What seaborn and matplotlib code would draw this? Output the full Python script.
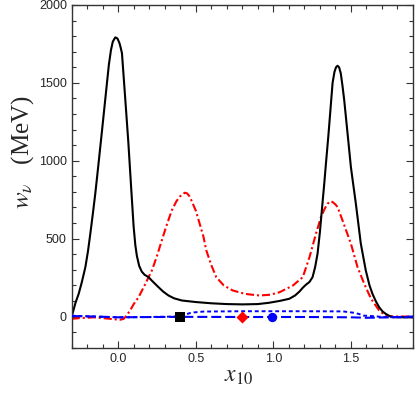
import matplotlib
matplotlib.use("Agg")
import matplotlib.pyplot as plt
import seaborn as sns
from matplotlib.ticker import MultipleLocator

# ---- data ----
black_x = [-0.3, -0.275, -0.255, -0.235, -0.212, -0.195, -0.18, -0.165, -0.148, -0.13,
           -0.105, -0.073, -0.06, -0.047, -0.035, -0.019, -0.005, 0.008, 0.016, 0.024,
           0.045, 0.065, 0.085, 0.099, 0.11, 0.12, 0.135, 0.152, 0.17, 0.195, 0.225, 0.26,
           0.29, 0.324, 0.36, 0.41, 0.5, 0.6, 0.7, 0.8, 0.9, 0.97, 1.04, 1.103, 1.14,
           1.168, 1.19, 1.211, 1.233, 1.253, 1.27, 1.285, 1.3, 1.318, 1.328, 1.339, 1.356,
           1.37, 1.382, 1.394, 1.404, 1.414, 1.424, 1.435, 1.446, 1.457, 1.485, 1.5, 1.51,
           1.532, 1.564, 1.596, 1.62, 1.639, 1.66, 1.682, 1.705, 1.725, 1.75, 1.77, 1.82, 1.9]
black_y = [0, 90, 146, 220, 317, 420, 532, 650, 789, 955,
           1190, 1497, 1620, 1710, 1765, 1792, 1785, 1755, 1725, 1690,
           1400, 1120, 800, 580, 460, 390, 325, 288, 268, 253, 222, 188,
           160, 135, 117, 103, 93, 85, 80, 78, 80, 88, 100, 114, 135,
           160, 185, 205, 222, 253, 320, 403, 540, 740, 850, 980, 1175,
           1350, 1500, 1570, 1600, 1610, 1600, 1560, 1480, 1389, 1111, 960, 886,
           725, 468, 296, 200, 146, 100, 60, 32, 17, 3, -4, -5, -5]

red_x = [-0.3, -0.25, -0.2, -0.16, -0.1, -0.05, 0.011, 0.035, 0.045, 0.06, 0.08, 0.1,
         0.131, 0.17, 0.217, 0.25, 0.281, 0.31, 0.345, 0.375, 0.397, 0.415, 0.43, 0.445,
         0.46, 0.472, 0.5, 0.525, 0.55, 0.568, 0.6, 0.632, 0.68, 0.739, 0.82, 0.911, 0.98,
         1.04, 1.126, 1.19, 1.233, 1.275, 1.307, 1.33, 1.35, 1.37, 1.382, 1.4, 1.414,
         1.446, 1.5, 1.543, 1.586, 1.63, 1.682, 1.725, 1.8, 1.9]
red_y = [-15, -10, -8, -5, -10, -15, -21, -15, -4, 15, 45, 80,
         124, 200, 296, 390, 489, 580, 681, 740, 770, 785, 795, 790,
         770, 745, 680, 596, 510, 424, 330, 253, 200, 167, 145, 135, 140,
         156, 199, 253, 381, 532, 638, 690, 725, 740, 735, 720, 703,
         617, 468, 317, 210, 114, 39, 3, 0, 0]

bdot_x = [-0.3, -0.15, 0.0, 0.2, 0.38, 0.42, 0.47, 0.55, 0.8, 1.0, 1.2, 1.45, 1.52,
          1.55, 1.58, 1.65, 1.72, 1.9]
bdot_y = [5, 0, -5, -3, 0, 8, 25, 32, 34, 34, 34, 33, 24, 17, 6, 2, -4, -5]

bdash_x = [-0.3, -0.15, 0.0, 0.4, 0.8, 1.2, 1.5, 1.6, 1.75, 1.9]
bdash_y = [3, 0, -5, -2, -3, -3, -5, -8, -5, 0]

marker_x = [0.4, 0.8, 0.99]
marker_y = [0, 0, 0]
marker_colors = ["black", "red", "blue"]
marker_shapes = ["s", "D", "o"]

xticks = [0.0, 0.5, 1.0, 1.5]
yticks = [0, 500, 1000, 1500, 2000]

# ---- figure ----
sns.set_style("ticks")
plt.rcParams['font.family'] = ['Liberation Sans', 'DejaVu Sans']
plt.rcParams['mathtext.fontset'] = 'stix'

fig = plt.figure(figsize=(4.15, 3.93), dpi=100)
ax = fig.add_axes([0.1728, 0.1153, 0.8222, 0.8720])

sns.lineplot(x=bdash_x, y=bdash_y, ax=ax, color="blue", lw=1.5, sort=False,
             estimator=None, zorder=3).lines[-1].set_dashes((4.8, 1.9))
sns.lineplot(x=bdot_x, y=bdot_y, ax=ax, color="blue", lw=1.4, sort=False,
             estimator=None, zorder=3).lines[-1].set_dashes((2.0, 1.5))
sns.lineplot(x=red_x, y=red_y, ax=ax, color="red", lw=1.5, sort=False,
             estimator=None, zorder=2).lines[-1].set_dashes((3.9, 1.4, 1.0, 1.4))
sns.lineplot(x=black_x, y=black_y, ax=ax, color="black", lw=1.5, sort=False,
             estimator=None, zorder=2)

for mx, my, mc, ms in zip(marker_x, marker_y, marker_colors, marker_shapes):
    sns.scatterplot(x=[mx], y=[my], ax=ax, color=mc, marker=ms,
                    s=45 if ms != "D" else 38, edgecolor=mc, linewidth=0, zorder=5)

ax.set_xlim(-0.3, 1.9)
ax.set_ylim(-200, 2000)
ax.set_xticks(xticks)
ax.set_xticklabels([f"{t:.1f}" for t in xticks])
ax.set_yticks(yticks)
ax.set_yticklabels([str(t) for t in yticks])
ax.xaxis.set_minor_locator(MultipleLocator(0.1))
ax.yaxis.set_minor_locator(MultipleLocator(100))
ax.tick_params(which="both", direction="in", top=True, right=True,
               labelsize=9, width=0.8, color="#333333")
ax.tick_params(which="major", length=5)
ax.tick_params(which="minor", length=3)
for s in ax.spines.values():
    s.set_linewidth(1.0)
    s.set_color("#333333")

ax.set_xlabel(r"$x_{10}$", fontsize=17)
ax.xaxis.set_label_coords(0.49, -0.05)
ax.set_ylabel(r"$w_{\nu}$   (MeV)", fontsize=18, family="Liberation Serif")
ax.yaxis.set_label_coords(-0.105, 0.57)

fig.savefig("out.png", dpi=100)
